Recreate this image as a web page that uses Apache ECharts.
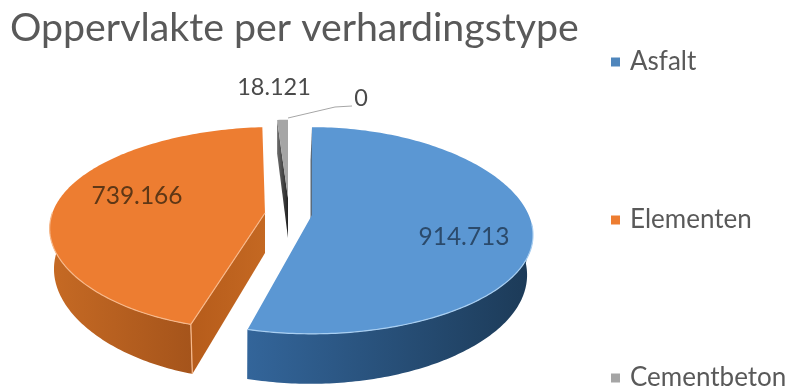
<!DOCTYPE html>
<html>
<head>
<meta charset="utf-8">
<style>html,body{margin:0;padding:0;background:#fff}#c{width:790px;height:391px}</style>
<script src="https://cdn.jsdelivr.net/npm/echarts@6/dist/echarts.min.js"></script>
</head>
<body>
<div id="c"></div>
<script>
const titleText = 'Oppervlakte per verhardingstype';
const categories = ['Asfalt', 'Elementen', 'Cementbeton', ''];
const surfaceValues = [914713, 739166, 18121, 0];
const topColors = ['#5B97D3', '#ED7D31', '#A5A5A5', '#A5A5A5'];

// Projection of each exploded slice on the tilted pie plane.
const sliceGeometry = [
  { ax: 312, ay: 215, rx: 221, ry: 101, k: 0.15, kx: 0.0, sh: 0, b: 20, h: 40, f: 0.98, wx: -1.5,
    wall: [84, 197], edge: '#A9CFF2', wallStops: ['#33659A', '#1C3A57'] },
  { ax: 265, ay: 213, rx: 215, ry: 99, k: 0.15, kx: 0.0, sh: -12, b: 10, h: 40, f: 0.98, wx: 0,
    wall: [197, 276], edge: '#F7B98C', wallStops: ['#C66A24', '#A5541B'], faceStops: ['#B65C1B', '#C46822'] },
  { ax: 288, ay: 198, rx: 160, ry: 90, k: 0.15, kx: 0.0, sh: 0, b: 0, h: 40, f: 1, wx: 0,
    wall: null, edge: null, faceStops: ['#6d6d6d', '#222222'] },
  { ax: 288, ay: 198, rx: 160, ry: 90, k: 0.15, kx: 0.0, sh: 0, b: 0, h: 40, f: 1, wx: 0, wall: null, edge: null }
];
const labelAnchors = [[464, 237, '#2B4A6B', 24.5], [137, 196, '#5E3716', 24.5], [274, 87, '#4A4A4A', 23.5], [361, 98, '#4A4A4A', 23.5]];
const leaderPath = [[288, 118], [335, 107], [352, 106]];

const total = surfaceValues.reduce((a, b) => a + b, 0);
const formatValue = v => String(v).replace(/\B(?=(\d{3})+$)/g, '.');

function project(g, deg) {
  const t = deg * Math.PI / 180, u = Math.sin(t), v = -Math.cos(t);
  return {
    v,
    x: g.ax + g.rx * u / (1 - g.kx * v) + g.sh * v,
    y: g.ay + g.ry * v / (1 - g.k * v) + g.b * u * u
  };
}
function lower(g, p) {
  return [g.ax + (p.x - g.ax) * g.f + g.wx, p.y + g.h / (1 - 0.2 * p.v)];
}
function arc(g, a, b) {
  const out = [], n = Math.max(2, Math.ceil(Math.abs(b - a)));
  for (let i = 0; i <= n; i++) out.push(project(g, a + (b - a) * i / n));
  return out;
}
const xy = p => [p.x, p.y];
const grad = (stops) => new echarts.graphic.LinearGradient(0, 0, 1, 0, [
  { offset: 0, color: stops[0] }, { offset: 1, color: stops[1] }
]);

function drawSlice(index) {
  return function (params, api) {
    const value = api.value(0);
    const g = sliceGeometry[index];
    let before = 0;
    for (let i = 0; i < index; i++) before += surfaceValues[i];
    const a0 = before / total * 360, a1 = (before + value) / total * 360;
    const children = [];
    const apex = { x: g.ax, y: g.ay, v: 0 };

    if (value > 0) {
      const rim = arc(g, a0, a1);
      // cut face at the start or end of the slice
      if (index === 0) {
        const far = project(g, a0);
        children.push({ type: 'polygon', shape: { points: [xy(far), xy(apex), lower(g, apex), lower(g, far)] },
          style: { fill: '#5a6b7d' } });
      }
      if (index === 1) {
        const near = project(g, a0);
        children.push({ type: 'polygon', shape: { points: [xy(apex), xy(near), lower(g, near), lower(g, apex)] },
          style: { fill: grad(g.faceStops) } });
      }
      if (index === 2) {
        const far = project(g, a0);
        children.push({ type: 'polygon', shape: { points: [xy(far), xy(apex), lower(g, apex), lower(g, far)] },
          style: { fill: grad(g.faceStops) } });
      }
      // outer curved wall
      if (g.wall) {
        const w = arc(g, g.wall[0], g.wall[1]);
        const pts = w.map(xy).concat(w.slice().reverse().map(p => lower(g, p)));
        children.push({ type: 'polygon', shape: { points: pts }, style: { fill: grad(g.wallStops) } });
      }
      // top face
      children.push({ type: 'polygon', shape: { points: [xy(apex)].concat(rim.map(xy)) },
        style: { fill: topColors[index] } });
      // lit edges along the near rim
      if (g.wall) {
        const w = arc(g, g.wall[0], g.wall[1]);
        children.push({ type: 'polyline', shape: { points: w.map(xy) },
          style: { fill: 'none', stroke: g.edge, lineWidth: 1.2 } });
      }
      if (index === 1) {
        const near = project(g, a0);
        children.push({ type: 'polyline', shape: { points: [xy(apex), xy(near), lower(g, near)] },
          style: { fill: 'none', stroke: g.edge, lineWidth: 1.2 } });
      }
    } else {
      children.push({ type: 'polyline', shape: { points: leaderPath },
        style: { fill: 'none', stroke: '#A6A6A6', lineWidth: 1 } });
    }

    const a = labelAnchors[index];
    children.push({ type: 'text', z2: 10, style: {
      text: formatValue(value), x: a[0], y: a[1], align: 'center', verticalAlign: 'middle',
      font: a[3] + 'px Lato', fill: a[2]
    } });
    return { type: 'group', children };
  };
}

const drawOrder = [2, 3, 1, 0];
const chart = echarts.init(document.getElementById('c'), null, { renderer: 'canvas' });
chart.setOption({
  animation: false,
  title: { text: titleText, left: 5, top: 4,
    textStyle: { fontFamily: 'Lato', fontWeight: 'normal', fontSize: 39.3, color: '#595959' } },
  legend: {
    orient: 'vertical', left: 611, top: 49, padding: 0, height: 342, itemGap: 132, itemWidth: 9, itemHeight: 9, icon: 'rect',
    data: categories.filter(c => c),
    textStyle: { fontFamily: 'Lato', fontSize: 26, color: '#595959', padding: [0, 0, 0, 5] }
  },
  series: drawOrder.map((idx, order) => ({
    type: 'custom',
    name: categories[idx] || 'rest',
    coordinateSystem: 'none',
    z: order + 2,
    silent: true,
    itemStyle: { color: topColors[idx] === '#5B97D3' ? '#4F86BC' : topColors[idx] },
    data: [[surfaceValues[idx]]],
    renderItem: drawSlice(idx)
  }))
});
</script>
</body>
</html>
